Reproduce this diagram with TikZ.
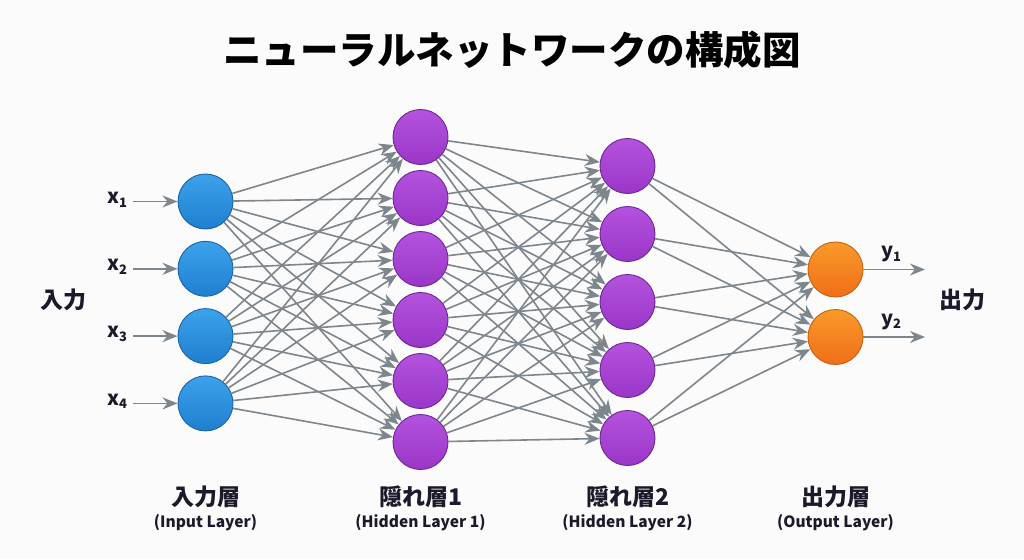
\documentclass[tikz,border=0pt]{standalone}
\usepackage{fontspec}
\setmainfont{Noto Sans CJK JP}
\usetikzlibrary{arrows.meta}

\definecolor{bgwhite}{HTML}{FBFBFB}
\definecolor{linkgray}{HTML}{7E868D}
\definecolor{inbluetop}{HTML}{3CA2EA}
\definecolor{inblue}{HTML}{1F7FD0}
\definecolor{inbluedark}{HTML}{1C64A8}
\definecolor{hidpurpletop}{HTML}{B453DE}
\definecolor{hidpurple}{HTML}{9A36C8}
\definecolor{hidpurpledark}{HTML}{6E2596}
\definecolor{outorangetop}{HTML}{F99A2A}
\definecolor{outorange}{HTML}{F06E18}
\definecolor{outorangedark}{HTML}{C9600F}
\definecolor{textdark}{HTML}{1A1A2A}

\begin{document}
\begin{tikzpicture}[x=1pt, y=-1pt,
    neuron/.style={circle, draw, line width=0.9pt, minimum size=55pt, inner sep=0pt},
    conn/.style={-{Stealth[length=15pt, width=12pt]}, draw=linkgray, fill=linkgray, line width=1.6pt},
    layername/.style={font=\fontsize{23}{26}\selectfont\bfseries, text=textdark},
    layersub/.style={font=\fontsize{15.5}{18}\selectfont\bfseries, text=textdark},
    varlabel/.style={font=\fontsize{20}{23}\selectfont\bfseries, text=textdark, inner sep=1pt}]

            % Background
            \fill[bgwhite] (0,0) rectangle (1024,559);
            \useasboundingbox (0,0) rectangle (1024,559);

            % Title
            \node[font=\fontsize{38.5}{44}\selectfont\bfseries, text=black] (title) at (512,50) {ニューラルネットワークの構成図};

            % Input Layer
            \foreach \i in {1,2,3,4}
            \node[neuron, top color=inbluetop, bottom color=inblue, draw=inbluedark] (I\i) at (205.5,{201.5+67.3*(\i-1)}) {};

            % Hidden Layer 1
            \foreach \i in {1,2,3,4,5,6}
            \node[neuron, top color=hidpurpletop, bottom color=hidpurple, draw=hidpurpledark] (H\i) at (420.5,{137+61*(\i-1)}) {};

            % Hidden Layer 2
            \foreach \i in {1,2,3,4,5}
            \node[neuron, top color=hidpurpletop, bottom color=hidpurple, draw=hidpurpledark] (G\i) at (627.5,{166+68*(\i-1)}) {};

            % Output Layer
            \foreach \i in {1,2}
            \node[neuron, top color=outorangetop, bottom color=outorange, draw=outorangedark] (O\i) at (835.5,{269.5+67.5*(\i-1)}) {};

            % Connect Layers
            \foreach \i in {1,2,3,4}
            \foreach \j in {1,2,3,4,5,6}
            \draw[conn] (I\i) -- (H\j);

            \foreach \i in {1,2,3,4,5,6}
            \foreach \j in {1,2,3,4,5}
            \draw[conn] (H\i) -- (G\j);

            \foreach \i in {1,2,3,4,5}
            \foreach \j in {1,2}
            \draw[conn] (G\i) -- (O\j);

            % Inputs
            \foreach \i in {1,2,3,4} {
            \node[varlabel] (X\i) at (117,{199.5+67.3*(\i-1)}) {x\raisebox{-0.35ex}{\fontsize{13}{15}\selectfont\i}};
            \coordinate (S\i) at (133,{201.5+67.3*(\i-1)});
            \draw[conn] (S\i) -- (I\i);
            }

            % Outputs
            \foreach \i in {1,2} {
            \coordinate (E\i) at (925,{269.5+67.5*(\i-1)});
            \draw[conn] (O\i) -- (E\i);
            \node[varlabel] (Y\i) at (891,{254+67.5*(\i-1)}) {y\raisebox{-0.35ex}{\fontsize{13}{15}\selectfont\i}};
            }

            % Side labels
            \node[layername] (inside) at (63,300) {入力};
            \node[layername] (outside) at (962,300) {出力};

            % Labels
            \node[layername] (LI) at (205.5,497) {入力層};
            \node[layersub] (LIs) at (205.5,523) {(Input Layer)};
            \node[layername] (LH) at (420.5,497) {隠れ層1};
            \node[layersub] (LHs) at (420.5,523) {(Hidden Layer 1)};
            \node[layername] (LG) at (627.5,497) {隠れ層2};
            \node[layersub] (LGs) at (627.5,523) {(Hidden Layer 2)};
            \node[layername] (LO) at (835.5,497) {出力層};
            \node[layersub] (LOs) at (835.5,523) {(Output Layer)};

        \end{tikzpicture}
\end{document}
